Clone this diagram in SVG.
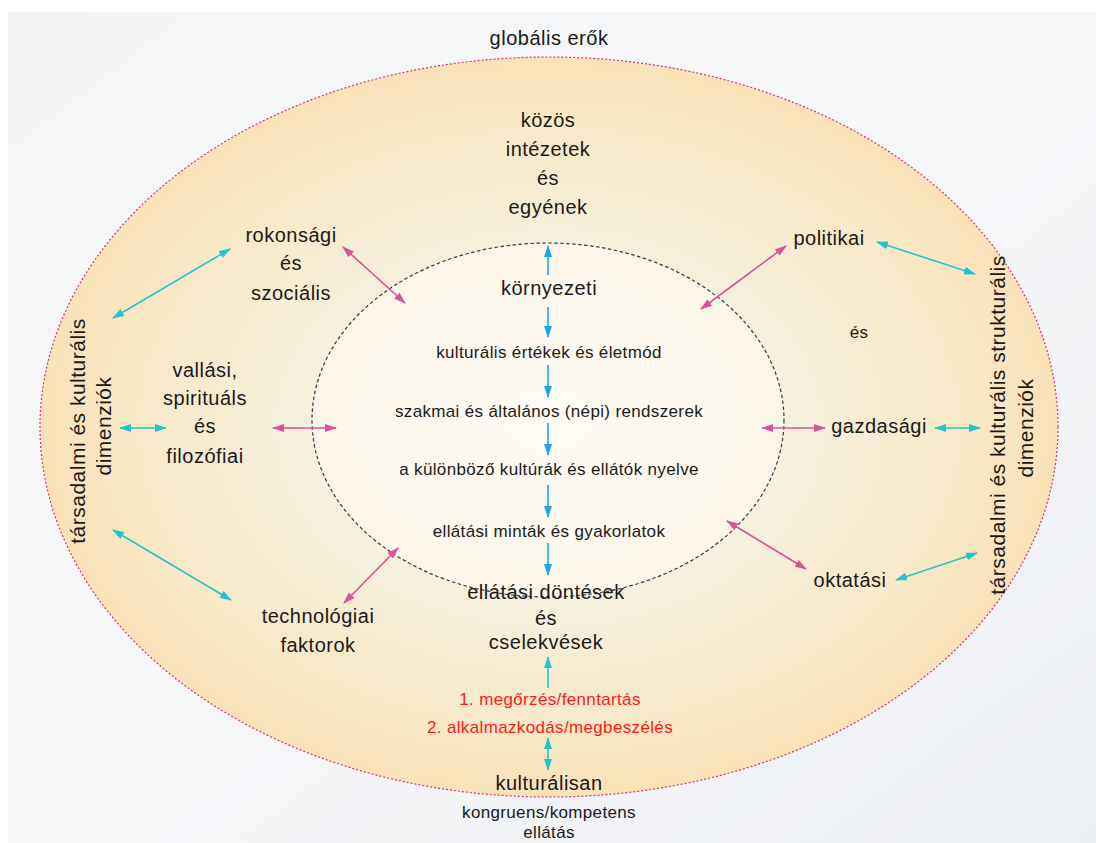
<svg xmlns="http://www.w3.org/2000/svg" width="1096" height="843" viewBox="0 0 1096 843">
  <defs>
    <linearGradient id="bg" x1="0" y1="0" x2="1" y2="1">
      <stop offset="0" stop-color="#f3f5f7"/>
      <stop offset="0.5" stop-color="#f6f7f9"/>
      <stop offset="1" stop-color="#eceff2"/>
    </linearGradient>
    <radialGradient id="outerFill" cx="0.5" cy="0.5" r="0.5">
      <stop offset="0.45" stop-color="#f5f0e0"/>
      <stop offset="0.8" stop-color="#f7e9c9"/>
      <stop offset="1" stop-color="#f9e2b7"/>
    </radialGradient>
    <radialGradient id="innerFill" cx="0.5" cy="0.5" r="0.5">
      <stop offset="0" stop-color="#fefbf5"/>
      <stop offset="1" stop-color="#fcf6ea"/>
    </radialGradient>
    <marker id="mag" viewBox="0 0 12 8" refX="11" refY="4" markerWidth="12" markerHeight="8" markerUnits="userSpaceOnUse" orient="auto-start-reverse">
      <path d="M0,0 L12,4 L0,8 z" fill="#d9529b"/>
    </marker>
    <marker id="cya" viewBox="0 0 12 8" refX="11" refY="4" markerWidth="12" markerHeight="8" markerUnits="userSpaceOnUse" orient="auto-start-reverse">
      <path d="M0,0 L12,4 L0,8 z" fill="#27c3cd"/>
    </marker>
    <marker id="blu" viewBox="0 0 12 8" refX="11" refY="4" markerWidth="12" markerHeight="8" markerUnits="userSpaceOnUse" orient="auto-start-reverse">
      <path d="M0,0 L12,4 L0,8 z" fill="#1ca5ec"/>
    </marker>
  </defs>
  <style>
    text { font-family: "Liberation Sans", Arial, sans-serif; fill: #1a1a1a; text-anchor: middle; }
    .lg { font-size: 20px; letter-spacing: 0.5px; }
    .vt { font-size: 21px; letter-spacing: 0.5px; }
    .sm { font-size: 17px; letter-spacing: 0.35px; }
    .red { fill: #ff1a1a; }
    .m { stroke: #d9529b; stroke-width: 1.6; fill: none; marker-start: url(#mag); marker-end: url(#mag); }
    .c { stroke: #27c3cd; stroke-width: 1.6; fill: none; marker-start: url(#cya); marker-end: url(#cya); }
    .b { stroke: #1ca5ec; stroke-width: 1.6; fill: none; marker-end: url(#blu); }
    .b2 { stroke: #27c3cd; stroke-width: 1.6; fill: none; marker-start: url(#cya); marker-end: url(#cya); }
  </style>

  <rect x="8" y="12" width="1088" height="831" fill="url(#bg)"/>

  <g id="outer-ring">
    <ellipse cx="549" cy="427" rx="509" ry="370" fill="url(#outerFill)" stroke="#d4337f" stroke-width="1.2" stroke-dasharray="2 2"/>
  </g>
  <g id="inner-core">
    <ellipse cx="548" cy="420" rx="236" ry="177" fill="url(#innerFill)" stroke="#3a3a3a" stroke-width="1.2" stroke-dasharray="3.5 2.5"/>
  </g>

  <g id="connectors">
    <line class="b" x1="548" y1="275" x2="548" y2="246"/>
    <line class="b" x1="548" y1="307" x2="548" y2="337"/>
    <line class="b" x1="548" y1="365" x2="548" y2="397"/>
    <line class="b" x1="548" y1="423" x2="548" y2="455"/>
    <line class="b" x1="548" y1="485" x2="548" y2="517"/>
    <line class="b" x1="548" y1="543" x2="548" y2="575"/>
    <line class="b2" x1="548" y1="688" x2="548" y2="657" style="marker-start:none"/>
    <line class="b2" x1="548" y1="738" x2="548" y2="770"/>
    <line class="m" x1="343" y1="247" x2="405" y2="303"/>
    <line class="m" x1="273" y1="428" x2="336" y2="428"/>
    <line class="m" x1="398" y1="548" x2="344" y2="603"/>
    <line class="m" x1="786" y1="246" x2="701" y2="309"/>
    <line class="m" x1="762" y1="428" x2="825" y2="428"/>
    <line class="m" x1="727" y1="521" x2="806" y2="569"/>
    <line class="c" x1="230" y1="249" x2="113" y2="318"/>
    <line class="c" x1="120" y1="428" x2="166" y2="428"/>
    <line class="c" x1="113" y1="530" x2="231" y2="600"/>
    <line class="c" x1="877" y1="242" x2="975" y2="274"/>
    <line class="c" x1="935" y1="428" x2="980" y2="428"/>
    <line class="c" x1="896" y1="580" x2="977" y2="553"/>
  </g>

  <g id="global-forces"><text class="lg" x="549" y="45">globális erők</text></g>

  <g id="common-institutions">
    <text class="lg" x="548" y="127">közös</text>
    <text class="lg" x="548" y="156">intézetek</text>
    <text class="lg" x="548" y="185">és</text>
    <text class="lg" x="548" y="214">egyének</text>
  </g>

  <g id="environmental"><text class="lg" x="549" y="295">környezeti</text></g>
  <g id="values"><text class="sm" x="549" y="358">kulturális értékek és életmód</text></g>
  <g id="systems"><text class="sm" x="549" y="417">szakmai és általános (népi) rendszerek</text></g>
  <g id="language"><text class="sm" x="549" y="475">a különböző kultúrák és ellátók nyelve</text></g>
  <g id="patterns"><text class="sm" x="549" y="537">ellátási minták és gyakorlatok</text></g>

  <g id="decisions">
    <text class="lg" x="546" y="599">ellátási döntések</text>
    <text class="lg" x="546" y="625">és</text>
    <text class="lg" x="546" y="649">cselekvések</text>
  </g>

  <g id="modes">
    <text class="sm red" x="550" y="705">1. megőrzés/fenntartás</text>
    <text class="sm red" x="550" y="733">2. alkalmazkodás/megbeszélés</text>
  </g>

  <g id="care">
    <text class="lg" x="549" y="790">kulturálisan</text>
    <text class="sm" x="549" y="818">kongruens/kompetens</text>
    <text class="sm" x="549" y="838">ellátás</text>
  </g>

  <g id="kinship">
    <text class="lg" x="291" y="242">rokonsági</text>
    <text class="lg" x="291" y="270">és</text>
    <text class="lg" x="291" y="300">szociális</text>
  </g>

  <g id="religious">
    <text class="lg" x="205" y="377">vallási,</text>
    <text class="lg" x="205" y="405">spirituáls</text>
    <text class="lg" x="205" y="433">és</text>
    <text class="lg" x="205" y="463">filozófiai</text>
  </g>

  <g id="technological">
    <text class="lg" x="318" y="623">technológiai</text>
    <text class="lg" x="318" y="652">faktorok</text>
  </g>

  <g id="political"><text class="lg" x="829" y="245">politikai</text></g>
  <g id="and-right"><text class="sm" x="859" y="338">és</text></g>
  <g id="economic"><text class="lg" x="879" y="433">gazdasági</text></g>
  <g id="educational"><text class="lg" x="850" y="587">oktatási</text></g>

  <g id="left-dimensions">
    <text class="vt" transform="translate(85,431) rotate(-90)">társadalmi és kulturális</text>
    <text class="vt" transform="translate(111,426) rotate(-90)">dimenziók</text>
  </g>

  <g id="right-dimensions">
    <text class="vt" transform="translate(1005,425) rotate(-90)">társadalmi és kulturális strukturális</text>
    <text class="vt" transform="translate(1033,428) rotate(-90)">dimenziók</text>
  </g>
</svg>
